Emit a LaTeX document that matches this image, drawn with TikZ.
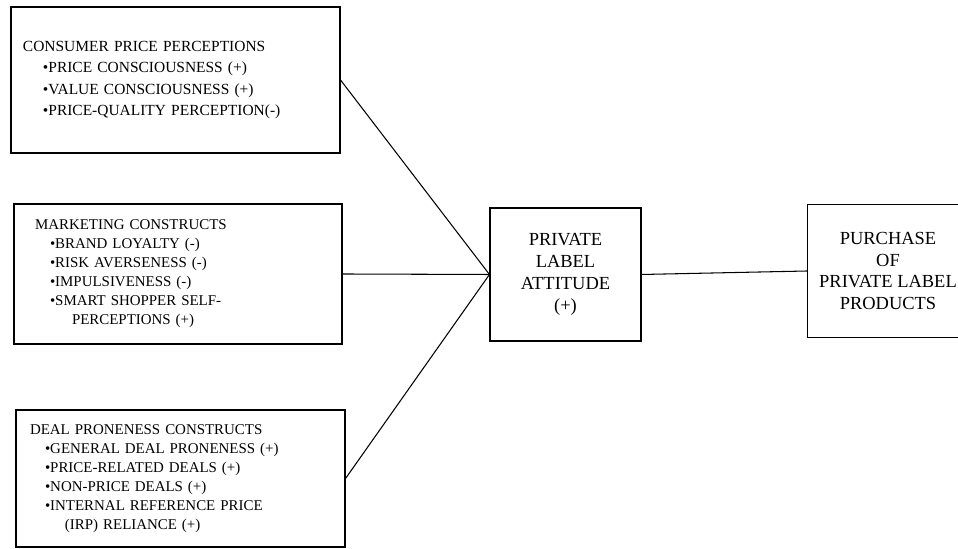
\documentclass[tikz,border=0pt]{standalone}
\usepackage{fontspec}
\setmainfont{Liberation Serif}
\usepackage{tikz}

\begin{document}
\begin{tikzpicture}[
  factorbox/.style = {draw, line width=0.6pt, align=left, anchor=center},
  resultbox/.style = {draw, line width=0.6pt, align=center, anchor=center,
    font=\fontsize{10.5}{12.4}\selectfont}]
\useasboundingbox (0,0) rectangle (19.16,10.98);
\clip (0,0) rectangle (19.16,10.98);
% three groups of antecedents
\node[factorbox, text width=6.1cm, inner xsep=0.24cm, minimum height=2.92cm,
  font=\fontsize{8.8}{12.2}\selectfont] (cpp) at (3.51,9.38)
  {CONSUMER PRICE PERCEPTIONS\\
   \hspace{0.40cm}\textbullet PRICE CONSCIOUSNESS (+)\\
   \hspace{0.40cm}\textbullet VALUE CONSCIOUSNESS (+)\\
   \hspace{0.40cm}\textbullet PRICE-QUALITY PERCEPTION(-)};
\node[factorbox, text width=5.72cm, inner xsep=0.42cm, minimum height=2.8cm,
  font=\fontsize{8.5}{10.8}\selectfont] (mkt) at (3.56,5.5)
  {MARKETING CONSTRUCTS\\
   \hspace{0.30cm}\textbullet BRAND LOYALTY (-)\\
   \hspace{0.30cm}\textbullet RISK AVERSENESS (-)\\
   \hspace{0.30cm}\textbullet IMPULSIVENESS (-)\\
   \hspace{0.30cm}\textbullet SMART SHOPPER SELF-\\
   \hspace{0.74cm}PERCEPTIONS (+)};
\node[factorbox, text width=6.02cm, inner xsep=0.28cm, minimum height=2.74cm,
  font=\fontsize{8.5}{10.8}\selectfont] (deal) at (3.61,1.41)
  {DEAL PRONENESS CONSTRUCTS\\
   \hspace{0.30cm}\textbullet GENERAL DEAL PRONENESS (+)\\
   \hspace{0.30cm}\textbullet PRICE-RELATED DEALS (+)\\
   \hspace{0.30cm}\textbullet NON-PRICE DEALS (+)\\
   \hspace{0.30cm}\textbullet INTERNAL REFERENCE PRICE\\
   \hspace{0.70cm}(IRP) RELIANCE (+)};
% attitude and outcome
\node[resultbox, minimum width=3.02cm, minimum height=2.66cm] (attitude) at (11.31,5.49)
  {PRIVATE\\ LABEL\\ ATTITUDE\\ (+)};
\node[resultbox, draw=none, minimum width=3.2cm, minimum height=2.64cm] (purchase) at (17.76,5.56)
  {PURCHASE\\ OF\\ PRIVATE LABEL\\ PRODUCTS};
% outcome box runs off the right edge
\draw[line width=0.6pt] (purchase.north west) -- ++(3.8,0)
  (purchase.north west) -- (purchase.south west) -- ++(3.8,0);
% connectors
\draw[line width=0.6pt] (cpp.east) -- (attitude.west);
\draw[line width=0.6pt] (mkt.east) -- (attitude.west);
\draw[line width=0.6pt] (deal.east) -- (attitude.west);
\draw[line width=0.6pt] (attitude.east) -- (purchase.west);
\end{tikzpicture}
\end{document}
